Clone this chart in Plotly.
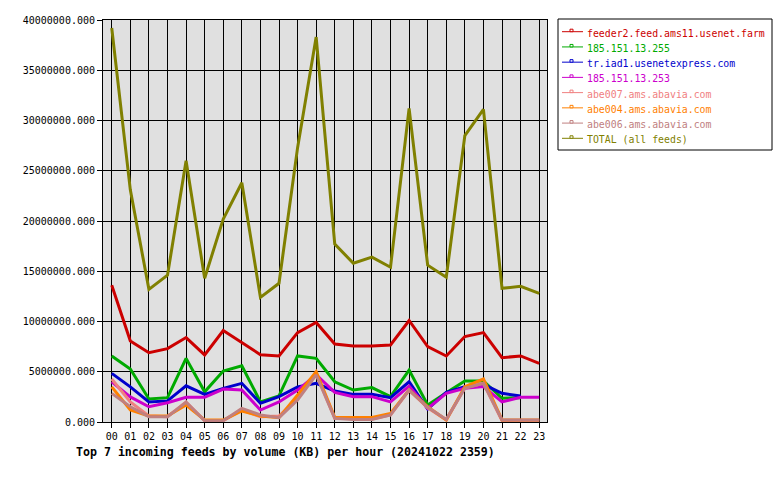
import plotly.graph_objects as go

hours = list(range(24))
hour_labels = [f"{h:02d}" for h in hours]

names = [
    "feeder2.feed.ams11.usenet.farm",
    "185.151.13.255",
    "tr.iad1.usenetexpress.com",
    "185.151.13.253",
    "abe007.ams.abavia.com",
    "abe004.ams.abavia.com",
    "abe006.ams.abavia.com",
    "TOTAL (all feeds)",
]
colors = ["#cc0000", "#00aa00", "#0000cc", "#cc00cc", "#f08080", "#ff8000", "#c08080", "#808000"]

# values in millions of KB
feeder2 = [13.6, 8.06, 6.9, 7.3, 8.4, 6.67, 9.1, 7.9, 6.7, 6.57, 8.9, 9.9, 7.76, 7.56, 7.56, 7.66, 10.1, 7.5, 6.57, 8.5, 8.9, 6.4, 6.57, 5.84]
ip255 = [6.57, 5.27, 2.29, 2.42, 6.33, 3.0, 5.07, 5.6, 2.0, 2.6, 6.57, 6.33, 4.0, 3.18, 3.42, 2.52, 5.17, 1.7, 2.9, 4.08, 4.08, 2.36, 2.42, None]
triad1 = [4.84, 3.5, 2.0, 2.1, 3.6, 2.75, 3.35, 3.85, 1.86, 2.52, 3.5, 3.85, 3.08, 2.75, 2.75, 2.42, 4.0, 1.29, 2.95, 3.52, 3.75, 2.85, 2.59, None]
ip253 = [4.0, 2.5, 1.52, 1.92, 2.46, 2.46, 3.28, 3.18, 1.19, 2.0, 3.18, 4.7, 2.95, 2.52, 2.52, 2.0, 3.58, 1.36, 2.85, 3.35, 3.52, 2.0, 2.46, 2.46]
abe007 = [4.28, 2.0, 0.6, 0.53, 2.0, 0.13, 0.13, 1.19, 0.53, 0.6, 2.36, 4.84, 0.36, 0.3, 0.3, 0.7, 3.18, 1.4, 0.2, 3.4, 3.85, 0.13, 0.13, 0.13]
abe004 = [3.5, 1.19, 0.6, 0.6, 1.69, 0.2, 0.2, 1.1, 0.6, 0.43, 2.69, 5.0, 0.46, 0.46, 0.46, 0.86, 3.18, 1.52, 0.2, 3.52, 4.28, 0.2, 0.2, 0.2]
abe006 = [2.85, 1.52, 0.53, 0.53, 1.96, 0.13, 0.13, 1.36, 0.7, 0.43, 2.19, 4.68, 0.36, 0.26, 0.26, 0.7, 3.18, 1.46, 0.26, 3.35, 3.85, 0.2, 0.2, 0.2]
total = [39.2, 23.1, 13.2, 14.6, 26.0, 14.3, 20.2, 23.8, 12.4, 13.8, 27.3, 38.3, 17.7, 15.8, 16.4, 15.4, 31.2, 15.6, 14.4, 28.5, 31.1, 13.3, 13.5, 12.8]

series = [feeder2, ip255, triad1, ip253, abe007, abe004, abe006, total]

MONO = "DejaVu Sans Mono"
W, H = 780, 480
ML, MR, MT, MB = 103, 233, 20, 58
PW, PH = W - ML - MR, H - MT - MB


def px(x):
    return (x - ML) / PW


def py(y):
    return (H - MB - y) / PH


fig = go.Figure()
for name, col, vals in zip(names, colors, series):
    y = [None if v is None else v * 1e6 for v in vals]
    fig.add_trace(go.Scatter(
        x=hours, y=y, mode="lines", name=name,
        line=dict(color=col, width=3),
        connectgaps=False, showlegend=False,
    ))

# custom legend (compact, like the reference)
shapes = [dict(type="rect", xref="paper", yref="paper",
               x0=px(558), x1=px(772), y0=py(150), y1=py(19),
               line=dict(color="black", width=1), fillcolor="white", layer="above")]
annotations = []
for i, (name, col) in enumerate(zip(names, colors)):
    ly = 31.7 + i * 15.23
    shapes.append(dict(type="line", xref="paper", yref="paper",
                       x0=px(562), x1=px(583), y0=py(ly), y1=py(ly),
                       line=dict(color=col, width=1), layer="above"))
    shapes.append(dict(type="rect", xref="paper", yref="paper",
                       x0=px(570), x1=px(573), y0=py(ly), y1=py(ly - 2.5),
                       line=dict(color=col, width=1), fillcolor="white", layer="above"))
    annotations.append(dict(
        text=name, xref="paper", yref="paper", x=px(585), y=py(ly + 1.5),
        xanchor="left", yanchor="middle", showarrow=False,
        font=dict(family=MONO, size=9.85, color=col),
    ))

annotations.append(dict(
    text="<b>Top 7 incoming feeds by volume (KB) per hour (20241022 2359)</b>",
    xref="paper", yref="paper", x=px(74), y=py(452),
    xanchor="left", yanchor="middle", showarrow=False,
    font=dict(family=MONO, size=11.6, color="black"),
))

fig.update_layout(
    width=W, height=H,
    margin=dict(l=ML, r=MR, t=MT, b=MB),
    paper_bgcolor="white",
    plot_bgcolor="#e0e0e0",
    font=dict(family=MONO, size=10, color="black"),
    showlegend=False,
    xaxis=dict(
        range=[-0.47, 23.42],
        tickvals=hours, ticktext=hour_labels,
        showgrid=True, gridcolor="black", gridwidth=1,
        ticks="outside", ticklen=5, tickcolor="black",
        showline=True, linecolor="black", linewidth=1, mirror=True,
        zeroline=False,
        tickfont=dict(family=MONO, size=10, color="black"),
    ),
    yaxis=dict(
        range=[0, 40e6],
        dtick=5e6, tick0=0, tickformat=".3f",
        showgrid=True, gridcolor="black", gridwidth=1,
        ticks="outside", ticklen=5, tickcolor="black",
        showline=True, linecolor="black", linewidth=1, mirror=True,
        zeroline=False,
        tickfont=dict(family=MONO, size=10, color="black"),
    ),
    shapes=shapes,
    annotations=annotations,
)

fig.write_html("out.html")
